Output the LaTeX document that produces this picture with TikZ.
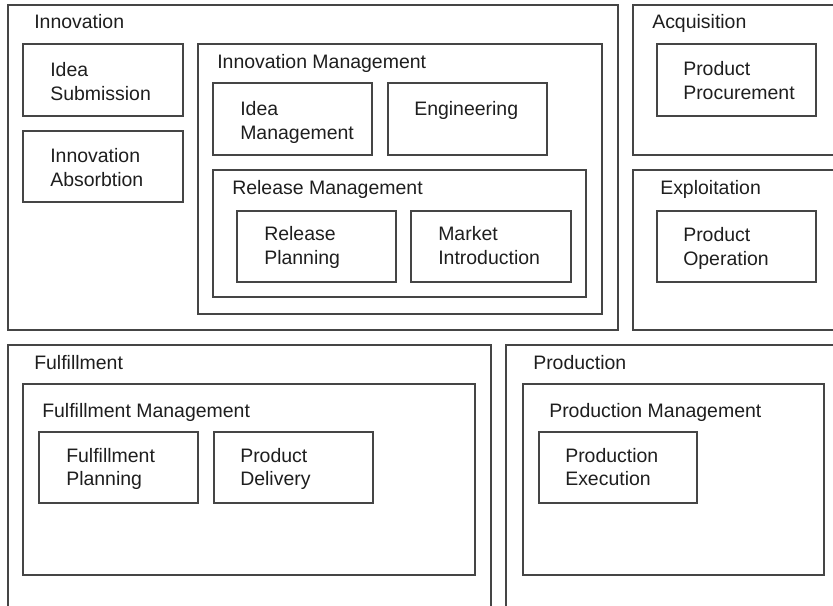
\documentclass[tikz,border=0pt]{standalone}
\usepackage{fontspec}
\setmainfont{Liberation Sans}
\usetikzlibrary{fit}
\definecolor{edge}{HTML}{454545}
\definecolor{ink}{HTML}{1E1E1E}
\newcommand{\twoln}[2]{\vtop{\hbox{#1}\hbox{#2}}}
\begin{document}
\begin{tikzpicture}[x=0.75pt,y=-0.75pt,
  box/.style={draw=edge,line width=1.4pt,inner sep=0pt,rectangle},
  lbl/.style={anchor=base west,inner sep=0pt,text=ink,font=\fontsize{14.6pt}{17.5pt}\selectfont}]
\useasboundingbox (0,0) rectangle (833,606);
\clip (0,0) rectangle (833,606);
% containers and boxes
\node[box,fit={(8,5) (618,330)}] (inno) {};
\node[box,fit={(23,44) (183,116)}] (idsub) {};
\node[box,fit={(23,131) (183,202)}] (inabs) {};
\node[box,fit={(198,44) (602,314)}] (inmgmt) {};
\node[box,fit={(213,83) (372,155)}] (idmgmt) {};
\node[box,fit={(388,83) (547,155)}] (eng) {};
\node[box,fit={(213,170) (586,297)}] (relm) {};
\node[box,fit={(237,211) (396,282)}] (relp) {};
\node[box,fit={(411,211) (571,282)}] (mkt) {};
\node[box,fit={(633,5) (850,155)}] (acq) {};
\node[box,fit={(657,44) (816,116)}] (proc) {};
\node[box,fit={(633,170) (850,330)}] (expl) {};
\node[box,fit={(657,211) (816,282)}] (oper) {};
\node[box,fit={(8,345) (491,625)}] (ful) {};
\node[box,fit={(23,384) (475,575)}] (fulm) {};
\node[box,fit={(39,432) (198,503)}] (fulp) {};
\node[box,fit={(214,432) (373,503)}] (deliv) {};
\node[box,fit={(506,345) (850,625)}] (prod) {};
\node[box,fit={(523,384) (824,575)}] (prodm) {};
\node[box,fit={(539,432) (697,503)}] (exec) {};
% container labels
\node[lbl] (t-inno) at (34,29) {Innovation};
\node[lbl] (t-inmgmt) at (217,69) {Innovation Management};
\node[lbl] (t-relm) at (232,195) {Release Management};
\node[lbl] (t-acq) at (652,29) {Acquisition};
\node[lbl] (t-expl) at (660,195) {Exploitation};
\node[lbl] (t-ful) at (34,370) {Fulfillment};
\node[lbl] (t-fulm) at (42,417) {Fulfillment Management};
\node[lbl] (t-prod) at (533,370) {Production};
\node[lbl] (t-prodm) at (549,417) {Production Management};
% box labels
\node[lbl] (t-idsub) at (50,77) {\twoln{Idea}{Submission}};
\node[lbl] (t-inabs) at (50,163) {\twoln{Innovation}{Absorbtion}};
\node[lbl] (t-idmgmt) at (240,116) {\twoln{Idea}{Management}};
\node[lbl] (t-eng) at (414,116) {Engineering};
\node[lbl] (t-relp) at (264,241) {\twoln{Release}{Planning}};
\node[lbl] (t-mkt) at (438,241) {\twoln{Market}{Introduction}};
\node[lbl] (t-proc) at (683,76) {\twoln{Product}{Procurement}};
\node[lbl] (t-oper) at (683,242) {\twoln{Product}{Operation}};
\node[lbl] (t-fulp) at (66,462) {\twoln{Fulfillment}{Planning}};
\node[lbl] (t-deliv) at (240,462) {\twoln{Product}{Delivery}};
\node[lbl] (t-exec) at (565,462) {\twoln{Production}{Execution}};
\end{tikzpicture}
\end{document}
